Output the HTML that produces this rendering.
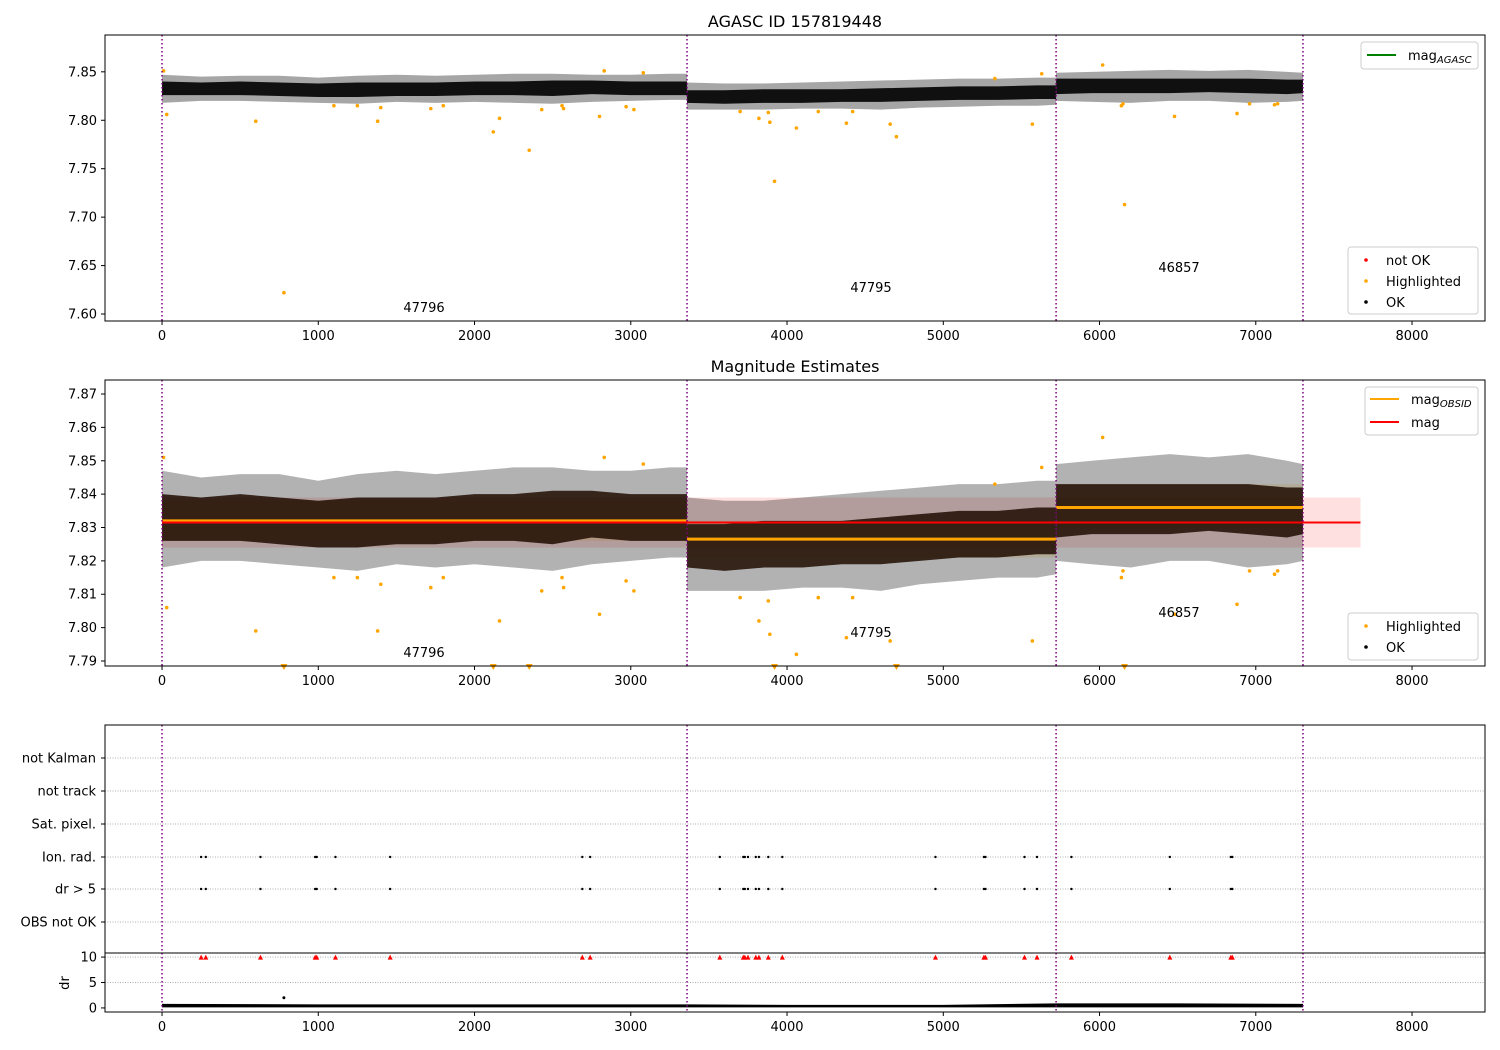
<!DOCTYPE html>
<html><head><meta charset="utf-8"><style>
body{margin:0;background:#fff;font-family:"Liberation Sans","DejaVu Sans",sans-serif;}
svg{display:block}
text{font-family:"DejaVu Sans","Liberation Sans",sans-serif;font-size:13px;fill:#000}
</style></head><body>
<svg id="c" width="1500" height="1050" viewBox="0 0 1500 1050"></svg>
<script>
// ---- data ----
const obsBounds=[0,3360,5722,7302];
const obsIds=["47796","47795","46857"];
const binX=[0,250,500,750,1000,1250,1500,1750,2000,2250,2500,2750,3000,3250,3360,3360,3600,3850,4100,4350,4600,4850,5100,5350,5600,5722,5722,5950,6200,6450,6700,6950,7200,7302];
const denseLo=[7.826,7.826,7.826,7.825,7.824,7.824,7.825,7.825,7.826,7.826,7.825,7.827,7.826,7.826,7.826,7.818,7.817,7.818,7.818,7.819,7.819,7.820,7.821,7.821,7.822,7.822,7.827,7.828,7.828,7.828,7.829,7.828,7.827,7.828];
const denseHi=[7.840,7.839,7.840,7.839,7.838,7.839,7.839,7.839,7.840,7.840,7.841,7.841,7.840,7.840,7.840,7.831,7.831,7.832,7.832,7.832,7.833,7.834,7.835,7.835,7.836,7.836,7.843,7.843,7.843,7.843,7.843,7.843,7.842,7.842];
const outerLo=[7.818,7.820,7.820,7.819,7.818,7.817,7.819,7.818,7.819,7.818,7.817,7.819,7.820,7.821,7.821,7.811,7.811,7.811,7.812,7.812,7.811,7.813,7.814,7.815,7.815,7.816,7.820,7.819,7.818,7.820,7.820,7.818,7.819,7.820];
const outerHi=[7.847,7.845,7.846,7.846,7.844,7.846,7.847,7.846,7.847,7.848,7.848,7.847,7.847,7.848,7.848,7.839,7.838,7.838,7.839,7.840,7.841,7.842,7.843,7.843,7.844,7.844,7.849,7.850,7.851,7.852,7.851,7.852,7.850,7.849];
const hlX=[10,30,600,780,1100,1250,1380,1400,1720,1800,2120,2160,2350,2430,2560,2570,2800,2830,2970,3020,3080,3700,3820,3880,3890,3920,4060,4200,4380,4420,4660,4700,5330,5570,5630,6020,6140,6150,6160,6480,6880,6960,7120,7140];
const hlY=[7.851,7.806,7.799,7.622,7.815,7.815,7.799,7.813,7.812,7.815,7.788,7.802,7.769,7.811,7.815,7.812,7.804,7.851,7.814,7.811,7.849,7.809,7.802,7.808,7.798,7.737,7.792,7.809,7.797,7.809,7.796,7.783,7.843,7.796,7.848,7.857,7.815,7.817,7.713,7.804,7.807,7.817,7.816,7.817];
const magMean=7.8315, magLo=7.824, magHi=7.839, magEnd=7670;
const obsMag=[7.832,7.8265,7.836];
const obsLo=[7.826,7.821,7.830];
const obsHi=[7.838,7.832,7.843];
const flagX=[250,280,630,980,990,1110,1460,2690,2740,3570,3720,3730,3750,3800,3820,3880,3970,4950,5260,5270,5520,5600,5820,6450,6840,6850];
const flagCats=["not Kalman","not track","Sat. pixel.","Ion. rad.","dr > 5","OBS not OK"];
const drBinX=[0,1000,2000,3000,3360,4000,5000,5722,6500,7302];
const drHi=[0.8,0.7,0.7,0.7,0.7,0.6,0.6,0.9,0.9,0.8];
const xTicks=[0,1000,2000,3000,4000,5000,6000,7000,8000];
const y1Ticks=[7.60,7.65,7.70,7.75,7.80,7.85];
const y2Ticks=[7.79,7.80,7.81,7.82,7.83,7.84,7.85,7.86,7.87];
const drTicks=[0,5,10];

// ---- helpers ----
const S=document.getElementById('c');const NS='http://www.w3.org/2000/svg';
function E(t,a,p){const e=document.createElementNS(NS,t);for(const k in a)e.setAttribute(k,a[k]);(p||S).appendChild(e);return e;}
const L=105,R=1485,X0=-365,X1=8467;
const sx=v=>L+(v-X0)/(X1-X0)*(R-L);
function lin(d0,d1,p0,p1){return v=>p0+(v-d0)/(d1-d0)*(p1-p0);}
const P1={t:35,b:321,y:lin(7.5928,7.888,321,35)};
const P2={t:380,b:666,y:lin(7.7885,7.8742,666,380)};
const P3={t:725,b:953};
const P4={t:953,b:1012,y:lin(-0.8,10.8,1012,953)};

function xAxis(p){
  for(const v of xTicks){
    const x=sx(v);
    const tk=E('line',{x1:x,x2:x,y1:p.b,y2:p.b+4,stroke:'#000'});
    
    const t=E('text',{x:x,y:p.b+19,'text-anchor':'middle'});t.textContent=v;
    
  }
}
function yAxis(p,ticks,fmt){
  for(const v of ticks){
    const y=p.y(v);
    E('line',{x1:L-4,x2:L,y1:y,y2:y,stroke:'#000'});
    const t=E('text',{x:L-8,y:y+4.5,'text-anchor':'end'});t.textContent=fmt(v);
    
  }
}
function frame(p,name){
  const r=E('rect',{x:L,y:p.t,width:R-L,height:p.b-p.t,fill:'none',stroke:'#000','stroke-width':1});
  
}
function vlines(p){
  for(const b of obsBounds){
    const l=E('line',{x1:sx(b),x2:sx(b),y1:p.t,y2:p.b,stroke:'#800080','stroke-width':1.5,'stroke-dasharray':'1.5,2.5'});
    
  }
}
function envelope(p,lo,hi,fill,op,name){
  let seg=[];const segs=[];
  for(let i=0;i<binX.length;i++){
    if(i>0&&binX[i]===binX[i-1]){segs.push(seg);seg=[];}
    seg.push(i);
  }
  segs.push(seg);
  for(const s of segs){
    let pts=s.map(i=>sx(binX[i])+','+p.y(hi[i]));
    pts=pts.concat(s.slice().reverse().map(i=>sx(binX[i])+','+p.y(lo[i])));
    const pg=E('polygon',{points:pts.join(' '),fill:fill,'fill-opacity':op});
    
  }
}
function highlights(p,ymin){
  for(let i=0;i<hlX.length;i++){
    if(hlY[i]<ymin){
      if(p===P2){const x=sx(hlX[i]),y=p.y(ymin)+2;
        const tr=E('polygon',{points:`${x-3.5},${y-4} ${x+3.5},${y-4} ${x},${y+2}`,fill:'orange'});
        }
      continue;
    }
    const c=E('circle',{cx:sx(hlX[i]),cy:p.y(hlY[i]),r:1.8,fill:'orange'});
    
  }
}
function obsLabels(p,ys){
  for(let k=0;k<3;k++){
    const t=E('text',{x:[424,871,1179][k],y:ys[k],'text-anchor':'middle'});t.textContent=obsIds[k];
    
  }
}
function legendBox(x,y,w,h,name){
  const r=E('rect',{x:x,y:y,width:w,height:h,rx:3,fill:'#fff','fill-opacity':0.85,stroke:'#ccc'});
  
}
function legDot(x,y,col,label){
  E('circle',{cx:x,cy:y,r:1.8,fill:col});
  const t=E('text',{x:x+20,y:y+5});t.textContent=label;
  
}
function legLine(x,y,col,label,sub){
  E('line',{x1:x,x2:x+29,y1:y,y2:y,stroke:col,'stroke-width':2});
  const t=E('text',{x:x+41,y:y+5});t.textContent=label;
  
  if(sub){const s=E('tspan',{style:'font-size:10px;font-style:italic',dy:3},t);s.textContent=sub;}
}

// ---- panel 1 ----
let t=E('text',{x:795,y:27,'text-anchor':'middle',style:'font-size:16px'});t.textContent='AGASC ID 157819448';

envelope(P1,outerLo,outerHi,'#000',0.35,'ok-points-spread');
envelope(P1,denseLo,denseHi,'#000',0.9,'ok-points');
highlights(P1,7.5928);
vlines(P1);obsLabels(P1,[312,292,272]);
frame(P1,'top-panel');xAxis(P1);yAxis(P1,y1Ticks,v=>v.toFixed(2));
legendBox(1361,42,117,27,'legend-agasc');legLine(1367,55,'green','mag','AGASC');
legendBox(1348,247,130,67,'legend-status');
legDot(1366,260,'red','not OK');legDot(1366,281,'orange','Highlighted');legDot(1366,302,'#000','OK');

// ---- panel 2 ----
t=E('text',{x:795,y:372,'text-anchor':'middle',style:'font-size:16px'});t.textContent='Magnitude Estimates';

let r=E('rect',{x:sx(0),y:P2.y(magHi),width:sx(magEnd)-sx(0),height:P2.y(magLo)-P2.y(magHi),fill:'red','fill-opacity':0.12});

for(let k=0;k<3;k++){
  const b=E('rect',{x:sx(obsBounds[k]),y:P2.y(obsHi[k]),width:sx(obsBounds[k+1])-sx(obsBounds[k]),height:P2.y(obsLo[k])-P2.y(obsHi[k]),fill:'orange','fill-opacity':0.15});
  
}
envelope(P2,outerLo,outerHi,'#000',0.3,'ok-points-spread');
envelope(P2,denseLo,denseHi,'#1e0c00',0.85,'ok-points');
highlights(P2,7.7885);
for(let k=0;k<3;k++){
  const l=E('line',{x1:sx(obsBounds[k]),x2:sx(obsBounds[k+1]),y1:P2.y(obsMag[k]),y2:P2.y(obsMag[k]),stroke:'orange','stroke-width':3});
  
}
let ml=E('line',{x1:sx(0),x2:sx(magEnd),y1:P2.y(magMean),y2:P2.y(magMean),stroke:'red','stroke-width':2});

vlines(P2);obsLabels(P2,[657,637,617]);
frame(P2,'middle-panel');xAxis(P2);yAxis(P2,y2Ticks,v=>v.toFixed(2));
legendBox(1365,387,113,48,'legend-mag');legLine(1370,399,'orange','mag','OBSID');legLine(1370,422,'red','mag');
legendBox(1348,613,130,47,'legend-points');legDot(1366,626,'orange','Highlighted');legDot(1366,647,'#000','OK');

// ---- panel 3 flags ----
const catY=[758,791,824,857,889,922];
flagCats.forEach((c,i)=>{
  E('line',{x1:L,x2:R,y1:catY[i],y2:catY[i],stroke:'#b0b0b0','stroke-dasharray':'1,1.5'});
  E('line',{x1:L-4,x2:L,y1:catY[i],y2:catY[i],stroke:'#000'});
  const tt=E('text',{x:L-9,y:catY[i]+4.5,'text-anchor':'end'});tt.textContent=c;
  
});
for(const fx of flagX){
  for(const row of [3,4]){
    const d=E('circle',{cx:sx(fx),cy:catY[row],r:1.2,fill:'#000'});
    
  }
}
E('circle',{cx:sx(3360),cy:catY[0],r:1,fill:'#888'});
vlines(P3);frame(P3,'flags-panel');

// ---- panel 4 dr ----
for(const v of [5,10]){E('line',{x1:L,x2:R,y1:P4.y(v),y2:P4.y(v),stroke:'#b0b0b0','stroke-dasharray':'1,1.5'});}
{
  let pts=drBinX.map((x,i)=>sx(x)+','+P4.y(drHi[i]));
  pts=pts.concat(drBinX.slice().reverse().map(x=>sx(x)+','+P4.y(0.1)));
  const pg=E('polygon',{points:pts.join(' '),fill:'#000'});
  
  E('circle',{cx:sx(780),cy:P4.y(2),r:1.5,fill:'#000'});
}
for(const fx of flagX){
  const x=sx(fx),y=P4.y(10);
  const tr=E('polygon',{points:`${x-2.5},${y+2.5} ${x+2.5},${y+2.5} ${x},${y-2.5}`,fill:'red'});
  
}
vlines(P4);frame(P4,'dr-panel');xAxis(P4);yAxis(P4,drTicks,v=>v);
t=E('text',{x:69,y:983,'text-anchor':'middle',transform:'rotate(-90 69 983)'});t.textContent='dr';

</script>
</body></html>
